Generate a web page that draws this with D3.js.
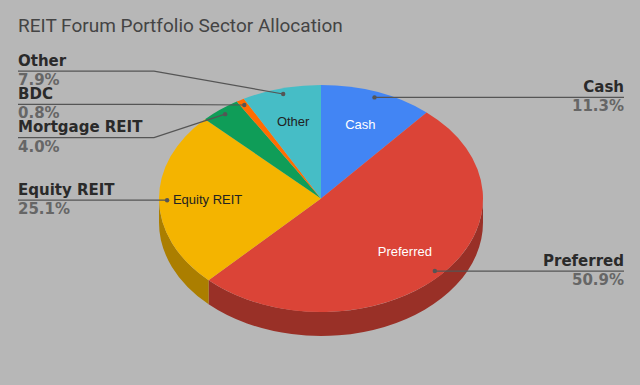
<!DOCTYPE html>
<html>
<head>
<meta charset="utf-8">
<script src="https://cdn.jsdelivr.net/npm/d3@7"></script>
<style>
  body { margin: 0; background: #b7b7b7; }
  svg { display: block; }
</style>
</head>
<body>
<svg id="chart" width="640" height="385"></svg>
<script>
(function() {

const sectors = ["Cash", "Preferred", "Equity REIT", "Mortgage REIT", "BDC", "Other"];
const shares = [11.3, 50.9, 25.1, 4.0, 0.8, 7.9];
const colors = ["#4285f4", "#db4437", "#f4b400", "#0f9d58", "#ff6d01", "#46bdc6"];

const svg = d3.select("#chart")
    , width = 640
    , height = 385
    , cx = 321, cy = 198.5
    , rx = 162, ry = 113.5
    , depth = 24
    , squash = ry / rx
    , labelGap = 33.3
    , leftX = 18, rightX = 624
    , leftElbow = 154, rightElbow = 486;

svg.append("rect").attr("width", width).attr("height", height).attr("fill", "#b7b7b7");

svg.append("text")
    .attr("x", 18).attr("y", 32)
    .attr("font-family", "Roboto, sans-serif")
    .attr("font-size", 19)
    .attr("fill", "#444")
    .text("REIT Forum Portfolio Sector Allocation");

const data = sectors.map((name, i) => ({ name: name, value: shares[i], color: colors[i] }));

const arcs = d3.pie()
    .sort(null)
    .value(d => d.value)
    .startAngle(0)
    .endAngle(2 * Math.PI)(data);

// pie drawn as a circle, then squashed vertically for the tilt
const pieG = svg.append("g")
    .attr("transform", "translate(" + cx + "," + cy + ") scale(1," + squash + ")");

const arc = d3.arc().innerRadius(0).outerRadius(rx);
const d3depth = depth / squash;

// front wall, only the visible lower half
pieG.append("g").selectAll("path")
    .data(arcs.filter(a => a.endAngle > Math.PI / 2 && a.startAngle < 3 * Math.PI / 2))
    .enter().append("path")
    .attr("fill", d => d3.color(d.data.color).darker(1))
    .attr("d", function(d) {
        const s0 = Math.max(d.startAngle, Math.PI / 2)
            , s1 = Math.min(d.endAngle, 3 * Math.PI / 2)
            , p = d3.path();
        p.moveTo(rx * Math.sin(s0), -rx * Math.cos(s0));
        p.arc(0, 0, rx, s0 - Math.PI / 2, s1 - Math.PI / 2);
        p.lineTo(rx * Math.sin(s1), -rx * Math.cos(s1) + d3depth);
        p.arc(0, d3depth, rx, s1 - Math.PI / 2, s0 - Math.PI / 2, true);
        p.closePath();
        return p.toString();
    });

pieG.append("g").selectAll("path")
    .data(arcs)
    .enter().append("path")
    .attr("fill", d => d.data.color)
    .attr("d", arc);

// point on the tilted ellipse for a pie angle and a radius fraction
function onPie(angle, k) {
    return [cx + rx * k * Math.sin(angle), cy - ry * k * Math.cos(angle)];
}

function textColor(c) {
    const rgb = d3.rgb(c)
        , lum = (0.299 * rgb.r + 0.587 * rgb.g + 0.114 * rgb.b) / 255;
    return lum > 0.6 ? "#222" : "#fff";
}

// labels inside the bigger slices
svg.append("g").selectAll("text")
    .data(arcs.filter(a => a.data.value >= 5))
    .enter().append("text")
    .each(function(d) {
        const pt = onPie((d.startAngle + d.endAngle) / 2, 0.7);
        d3.select(this).attr("x", pt[0]).attr("y", pt[1]);
    })
    .attr("text-anchor", "middle")
    .attr("dominant-baseline", "central")
    .attr("font-family", "'Liberation Sans', Arial, sans-serif")
    .attr("font-size", 13)
    .attr("fill", d => textColor(d.data.color))
    .text(d => d.data.name);

// outside labels with leader lines
const callouts = arcs.map(function(a) {
    const mid = (a.startAngle + a.endAngle) / 2
        , pt = onPie(mid, 0.95);
    return { name: a.data.name, value: a.data.value, ax: pt[0], ay: pt[1], left: Math.sin(mid) < 0 };
});

function spread(items) {
    items.sort((a, b) => a.ay - b.ay);
    let groups = items.map(d => ({ items: [d], mean: d.ay }))
        , merged = true;
    while (merged) {
        merged = false;
        for (let i = 0; i < groups.length - 1; i++) {
            const g = groups[i], h = groups[i + 1]
                , gEnd = g.mean + (g.items.length - 1) * labelGap / 2
                , hStart = h.mean - (h.items.length - 1) * labelGap / 2;
            if (hStart - gEnd < labelGap) {
                const all = g.items.concat(h.items);
                groups.splice(i, 2, { items: all, mean: d3.mean(all, d => d.ay) });
                merged = true;
                break;
            }
        }
    }
    groups.forEach(g => g.items.forEach((d, i) => {
        d.ly = g.mean + (i - (g.items.length - 1) / 2) * labelGap;
    }));
}

spread(callouts.filter(d => d.left));
spread(callouts.filter(d => !d.left));

const fmt = d3.format(".1f");
const line = d3.line();

const callG = svg.append("g").selectAll("g")
    .data(callouts)
    .enter().append("g");

callG.append("path")
    .attr("fill", "none")
    .attr("stroke", "#555")
    .attr("stroke-width", 1.2)
    .attr("d", d => d.left
        ? line([[leftX, d.ly], [Math.min(leftElbow, d.ax), d.ly], [d.ax, d.ay]])
        : line([[rightX, d.ly], [Math.max(rightElbow, d.ax), d.ly], [d.ax, d.ay]]));

callG.append("circle")
    .attr("cx", d => d.ax).attr("cy", d => d.ay)
    .attr("r", 2.2)
    .attr("fill", "#555");

callG.append("text")
    .attr("x", d => d.left ? leftX : rightX)
    .attr("y", d => d.ly - 5.5)
    .attr("text-anchor", d => d.left ? "start" : "end")
    .attr("font-family", "'DejaVu Sans', Verdana, sans-serif")
    .attr("font-weight", "bold")
    .attr("font-size", 15)
    .attr("fill", "#2a2a2a")
    .text(d => d.name);

callG.append("text")
    .attr("x", d => d.left ? leftX : rightX)
    .attr("y", d => d.ly + 14)
    .attr("text-anchor", d => d.left ? "start" : "end")
    .attr("font-family", "'DejaVu Sans', Verdana, sans-serif")
    .attr("font-weight", "bold")
    .attr("font-size", 15)
    .attr("fill", "#666")
    .text(d => fmt(d.value) + "%");

})();
</script>
</body>
</html>
